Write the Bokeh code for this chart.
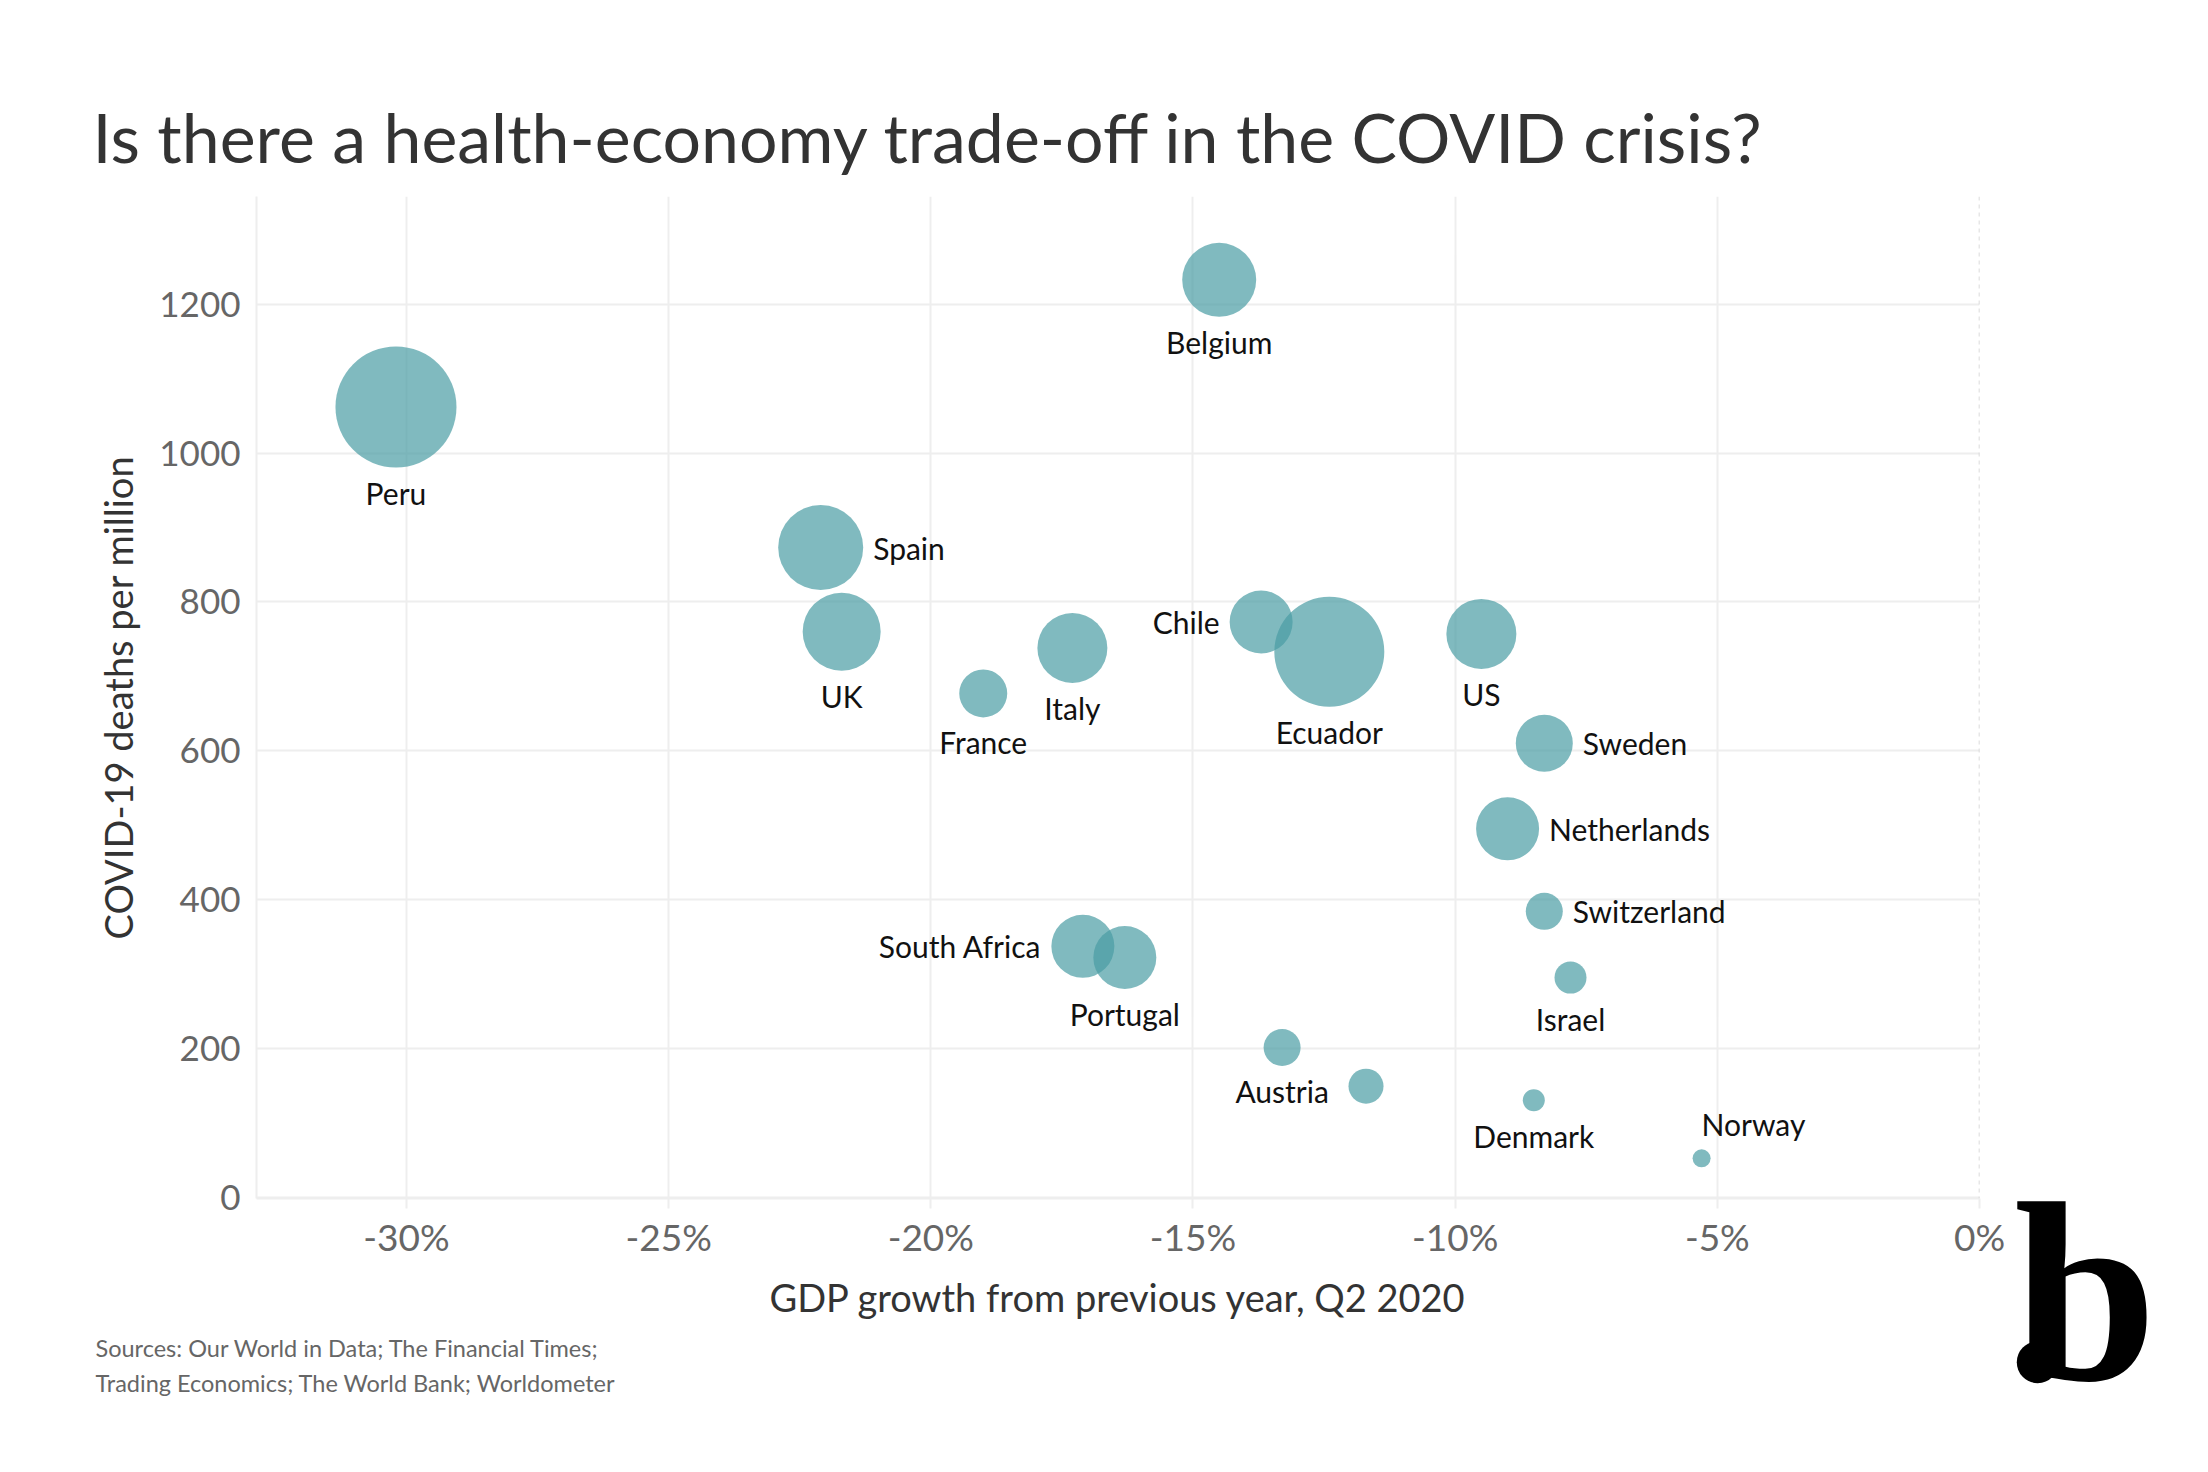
from bokeh.plotting import figure
from bokeh.models import ColumnDataSource, Span, FixedTicker, Title
from bokeh.layouts import row
from bokeh.embed import file_html
from bokeh.resources import INLINE
from bokeh.core.properties import value

# ---- data ----
countries = ["Peru", "Spain", "UK", "France", "Italy", "Belgium", "Chile", "Ecuador",
             "US", "Sweden", "Netherlands", "Switzerland", "Israel", "Portugal",
             "South Africa", "Austria", "", "Denmark", "Norway"]
gdp_growth = [-30.2, -22.1, -21.7, -19.0, -17.3, -14.5, -13.7, -12.4,
              -9.5, -8.3, -9.0, -8.3, -7.8, -16.3,
              -17.1, -13.3, -11.7, -8.5, -5.3]
deaths_per_million = [1062, 873, 760, 677, 738, 1233, 773, 733,
                      757, 610, 495, 384, 295, 322,
                      337, 201, 149, 130, 52]
size_metric = [12.1, 8.5, 7.8, 4.8, 7.0, 7.4, 6.3, 11.0,
               7.0, 5.7, 6.3, 3.7, 3.2, 6.3,
               6.3, 3.7, 3.5, 2.2, 1.8]
label_side = ["below", "right", "below", "below", "below", "below", "left", "below",
              "below", "right", "right", "right", "below", "below",
              "left", "below", "none", "below", "above"]

x_ticks = [-30, -25, -20, -15, -10, -5, 0]
x_tick_labels = ["-30%", "-25%", "-20%", "-15%", "-10%", "-5%", "0%"]
y_ticks = [0, 200, 400, 600, 800, 1000, 1200]

title_text = "Is there a health-economy trade-off in the COVID crisis?"
x_title = "GDP growth from previous year, Q2 2020"
y_title = "COVID-19 deaths per million"
source_lines = ["Sources: Our World in Data; The Financial Times;",
                "Trading Economics; The World Bank; Worldometer"]
logo_parts = [".", "b"]

# ---- layout ----
H = 1472
W1 = 2005          # main chart canvas
W2 = 2208 - W1     # logo canvas
FL, FT, FB = 256, 196, 274
FR = W1 - 1979
FONT = "Lato"

sizes_px = [s * 10 for s in size_metric]
x_off, y_off, align = [], [], []
for side, d in zip(label_side, sizes_px):
    r = d / 2
    if side == "below":
        x_off.append(0); y_off.append(r + 25); align.append("center")
    elif side == "right":
        x_off.append(r + 10); y_off.append(0); align.append("left")
    elif side == "left":
        x_off.append(-(r + 10)); y_off.append(0); align.append("right")
    elif side == "above":
        x_off.append(0); y_off.append(-(r + 25)); align.append("left")
    else:
        x_off.append(0); y_off.append(0); align.append("center")

src = ColumnDataSource(dict(x=gdp_growth, y=deaths_per_million, size=sizes_px,
                            name=countries, xo=x_off, yo=y_off, al=align))

p = figure(width=W1, height=H, x_range=(-32.86, 0), y_range=(-2, 1345),
           output_backend="svg", toolbar_location=None,
           min_border_left=FL, min_border_right=FR, min_border_top=FT, min_border_bottom=FB,
           background_fill_color="white", border_fill_color="white")
p.outline_line_color = None

p.scatter("x", "y", size="size", source=src, fill_color="#4a9ca4", fill_alpha=0.7,
          line_color=None)
p.text("x", "y", text="name", source=src, x_offset="xo", y_offset="yo",
       text_align="al", text_baseline="middle", text_font=value(FONT),
       text_font_size="30px", text_color="#111111")

p.add_layout(Span(location=0, dimension="height", line_color="#cfcfcf",
                  line_dash="4 4", line_width=1.5))

# title
p.title.text = title_text
p.title.align = "left"
p.title.offset = 92 - FL
p.title.text_font = FONT
p.title.text_font_size = "68px"
p.title.text_font_style = "normal"
p.title.text_color = "#333333"
p.title.standoff = 39

# axes
p.xaxis.ticker = FixedTicker(ticks=x_ticks)
p.xaxis.major_label_overrides = {t: lab for t, lab in zip(x_ticks, x_tick_labels)}
p.yaxis.ticker = FixedTicker(ticks=y_ticks)
for ax in (p.xaxis, p.yaxis):
    ax.major_label_text_font = FONT
    ax.major_label_text_color = "#666666"
    ax.axis_label_text_font = FONT
    ax.axis_label_text_font_size = "38px"
    ax.axis_label_text_font_style = "normal"
    ax.axis_label_text_color = "#333333"
    ax.axis_line_color = "#eeeeee"
    ax.axis_line_width = 2
    ax.minor_tick_line_color = None
    ax.major_tick_in = 0
p.xaxis.major_label_text_font_size = "37px"
p.yaxis.major_label_text_font_size = "35px"
p.xaxis.axis_label = x_title
p.yaxis.axis_label = y_title
p.xaxis.major_tick_out = 10
p.xaxis.major_tick_line_color = "#eeeeee"
p.xaxis.major_tick_line_width = 2
p.xaxis.major_label_standoff = 5
p.xaxis.axis_label_standoff = 12
p.yaxis.major_tick_out = 0
p.yaxis.major_tick_line_color = None
p.yaxis.major_label_standoff = 16
p.yaxis.axis_label_standoff = 15

p.xgrid.grid_line_color = "#eeeeee"
p.ygrid.grid_line_color = "#eeeeee"
p.xgrid.grid_line_width = 2
p.ygrid.grid_line_width = 2

# sources (below the x axis)
for line, so in zip(source_lines, [18, -8]):
    p.add_layout(Title(text=line, align="left", offset=95 - FL, text_font=FONT,
                       text_font_size="23.5px", text_font_style="normal",
                       text_color="#666666", standoff=so), "below")

# ---- logo canvas: the logo is drawn as the labels of a bare axis ----
logo_pos = [24, 80]   # pixel positions inside the logo canvas
q = figure(width=W2, height=H, x_range=(0, W2), y_range=(0, 1),
           output_backend="svg", toolbar_location=None, y_axis_type=None,
           min_border=0, background_fill_color="white", border_fill_color="white")
q.outline_line_color = None
q.grid.visible = False
q.xaxis.ticker = FixedTicker(ticks=logo_pos)
q.xaxis.major_label_overrides = {t: s for t, s in zip(logo_pos, logo_parts)}
q.xaxis.major_label_text_font = "Liberation Serif"
q.xaxis.major_label_text_font_style = "bold"
q.xaxis.major_label_text_font_size = "257px"
q.xaxis.major_label_text_color = "black"
q.xaxis.axis_line_color = None
q.xaxis.major_tick_line_color = None
q.xaxis.minor_tick_line_color = None
q.xaxis.major_tick_out = 0
q.xaxis.major_tick_in = 0
q.xaxis.major_label_standoff = -48

open("out.html", "w").write(file_html(row(p, q), INLINE))
